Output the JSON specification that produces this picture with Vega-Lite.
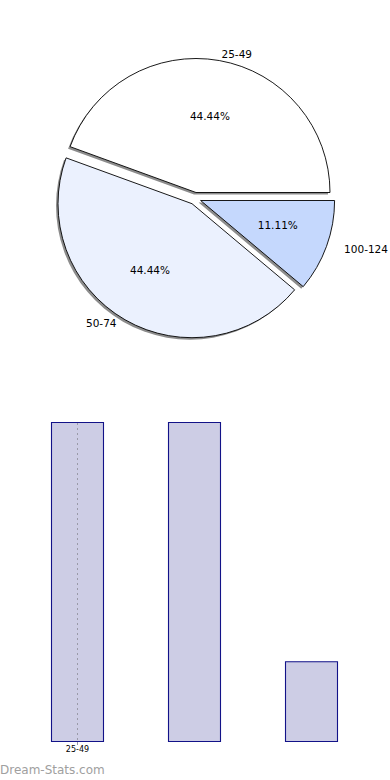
{
  "$schema": "https://vega.github.io/schema/vega-lite/v6.json",
  "padding": 0,
  "spacing": 24.5,
  "background": "white",
  "config": {"view": {"stroke": null}, "font": "DejaVu Sans"},
  "datasets": {
    "groups": [
      {"group": "100-124", "count": 1, "ord": 1, "pct": "11.11%"},
      {"group": "50-74", "count": 4, "ord": 2, "pct": "44.44%"},
      {"group": "25-49", "count": 4, "ord": 3, "pct": "44.44%"}
    ]
  },
  "title": {"text": "Dream-Stats.com", "orient": "bottom", "anchor": "start", "color": "#a0a0a0", "fontSize": 12, "fontWeight": "normal", "font": "DejaVu Sans", "offset": 11},
  "vconcat": [
    {
      "width": 390,
      "height": 397,
      "data": {"name": "groups"},
      "encoding": {
        "theta": {"field": "count", "type": "quantitative", "stack": true, "scale": {"range": [1.5708, 7.854]}},
        "order": {"field": "ord", "type": "quantitative"}
      },
      "layer": [
        {
          "mark": {"type": "arc", "radius": 134, "fill": "#8c8c8c", "stroke": null,
            "xOffset": {"expr": "datum.group=='25-49' ? -1 : datum.group=='50-74' ? -5 : 3.6"},
            "yOffset": {"expr": "datum.group=='25-49' ? -4 : datum.group=='50-74' ? 7.2 : 4"}}
        },
        {
          "mark": {"type": "arc", "radius": 134, "stroke": "black", "strokeWidth": 0.9,
            "xOffset": {"expr": "datum.group=='25-49' ? 1 : datum.group=='50-74' ? -3 : 5.6"},
            "yOffset": {"expr": "datum.group=='25-49' ? -6 : datum.group=='50-74' ? 5.2 : 2"}},
          "encoding": {
            "color": {"field": "group", "type": "nominal", "legend": null,
              "scale": {"domain": ["25-49", "50-74", "100-124"], "range": ["#ffffff", "#ebf1fe", "#c5d8fd"]}}
          }
        },
        {
          "mark": {"type": "text", "radius": 80, "fontSize": 10.5, "color": "black", "baseline": "middle",
            "xOffset": {"expr": "datum.group=='25-49' ? 1 : datum.group=='50-74' ? -5 : 7.6"},
            "yOffset": {"expr": "datum.group=='25-49' ? -3 : datum.group=='50-74' ? 3.2 : 0"}},
          "encoding": {"text": {"field": "pct"}}
        },
        {
          "mark": {"type": "text", "radius": 141, "fontSize": 10.5, "color": "black", "baseline": "middle",
            "align": {"expr": "datum.group=='50-74' ? 'right' : 'left'"},
            "xOffset": {"expr": "datum.group=='25-49' ? 2 : datum.group=='50-74' ? -8 : 16.6"},
            "yOffset": {"expr": "datum.group=='25-49' ? -4.5 : datum.group=='50-74' ? 3.7 : 3.5"}},
          "encoding": {"text": {"field": "group"}}
        }
      ]
    },
    {
      "width": 389,
      "height": 319,
      "data": {"name": "groups"},
      "mark": {"type": "bar", "fill": "#cdcde5", "stroke": "#121288", "strokeWidth": 1.1},
      "encoding": {
        "x": {
          "field": "group", "type": "nominal", "sort": ["25-49", "50-74", "100-124"],
          "scale": {"paddingInner": 0.5556, "paddingOuter": 0.44017},
          "axis": {
            "title": null, "domain": false, "labelAngle": 0, "labelFontSize": 8, "labelColor": "black",
            "labelPadding": 1, "labelFont": "DejaVu Sans",
            "labelExpr": "datum.value == '25-49' ? datum.value : ''",
            "ticks": true, "tickSize": 3, "tickColor": "#9a9aa6",
            "tickOpacity": {"condition": {"test": "datum.value == '25-49'", "value": 1}, "value": 0},
            "grid": true, "gridColor": "#9a9aa8", "gridDash": [2, 3], "gridWidth": 1,
            "gridOpacity": {"condition": {"test": "datum.value == '25-49'", "value": 1}, "value": 0},
            "zindex": 1
          }
        },
        "y": {"field": "count", "type": "quantitative", "scale": {"domain": [0, 4]}, "axis": null}
      }
    }
  ]
}
